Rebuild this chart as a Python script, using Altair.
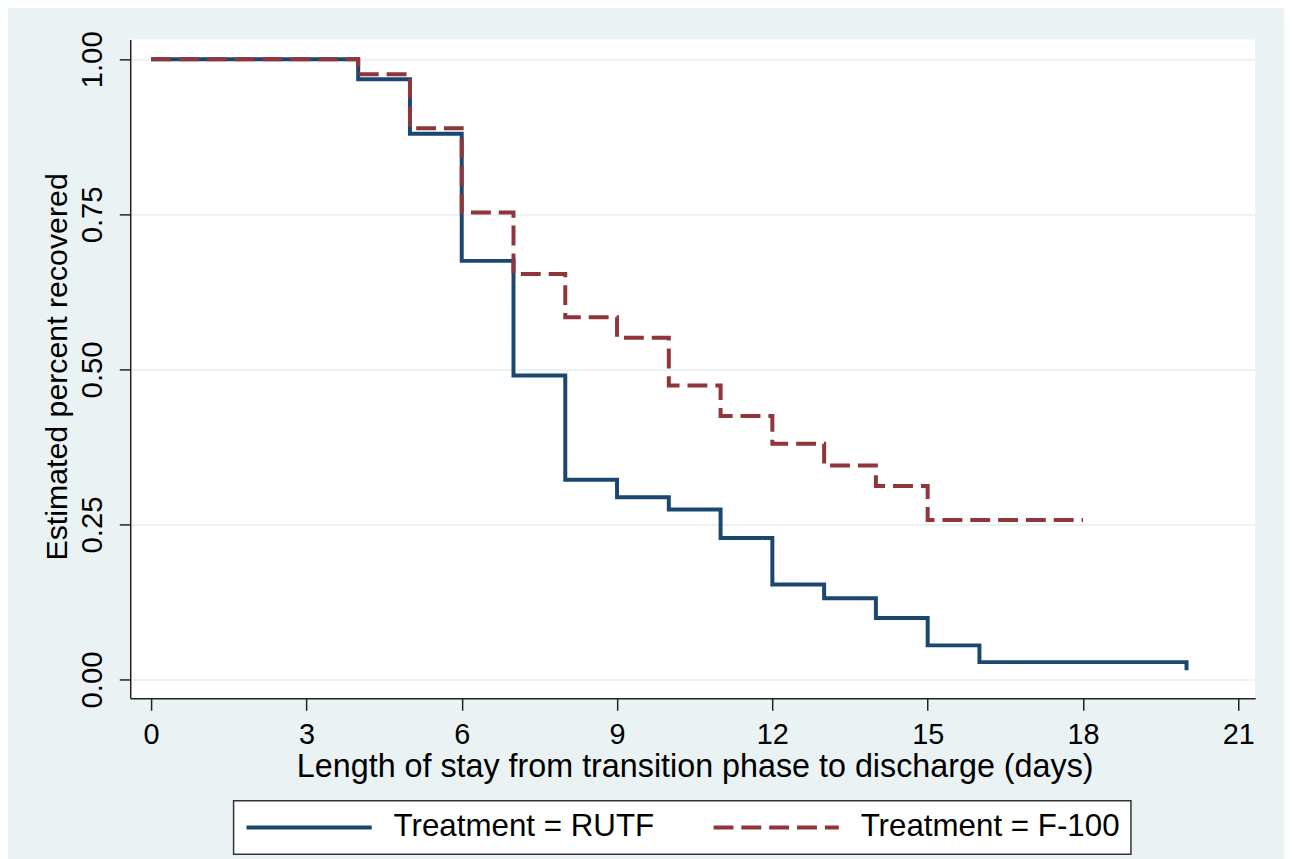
import altair as alt
import pandas as pd

# Kaplan-Meier style step data
days_rutf = [0, 4, 5, 6, 7, 8, 9, 10, 11, 12, 13, 14, 15, 16, 20]
surv_rutf = [1.0, 0.968, 0.880, 0.675, 0.490, 0.322, 0.294, 0.274, 0.228, 0.153, 0.131, 0.099, 0.055, 0.028, 0.015]

days_f100 = [0, 4, 5, 6, 7, 8, 9, 10, 11, 12, 13, 14, 15, 18]
surv_f100 = [1.0, 0.976, 0.889, 0.753, 0.654, 0.584, 0.551, 0.474, 0.425, 0.380, 0.345, 0.312, 0.257, 0.257]

series_names = ["Treatment = RUTF", "Treatment = F-100"]
series_colors = ["#1a476f", "#90353b"]
x_ticks = [0, 3, 6, 9, 12, 15, 18, 21]
y_ticks = [0.0, 0.25, 0.5, 0.75, 1.0]

rows = []
for i, (d, s) in enumerate(zip(days_rutf, surv_rutf)):
    rows.append({"day": d, "surv": s, "Treatment": series_names[0], "order": i})
for i, (d, s) in enumerate(zip(days_f100, surv_f100)):
    rows.append({"day": d, "surv": s, "Treatment": series_names[1], "order": i})
df = pd.DataFrame(rows)

FONT = "Liberation Sans, Arial, Helvetica, sans-serif"

x_enc = alt.X(
    "day:Q",
    scale=alt.Scale(domain=[-0.403, 21.326], nice=False, zero=False),
    axis=alt.Axis(
        values=x_ticks, format="d", grid=False,
        title="Length of stay from transition phase to discharge (days)",
        titleFontSize=32.5, titleFontWeight="normal", titleColor="#000",
        titleBaseline="alphabetic", titleY=79, titleX=568, titleAlign="center",
        labelFontSize=29, labelColor="#000", labelBaseline="alphabetic",
        labelPadding=33, labelFlush=False,
        tickSize=12, tickColor="#222", tickWidth=1.5,
        domainColor="#222", domainWidth=1.5,
    ),
)
y_enc = alt.Y(
    "surv:Q",
    scale=alt.Scale(domain=[-0.0304, 1.032], nice=False, zero=False),
    axis=alt.Axis(
        values=y_ticks, format=".2f", grid=True,
        gridColor="#EAF2F3", gridWidth=2,
        title="Estimated percent recovered",
        titleFontSize=30.5, titleFontWeight="normal", titleColor="#000",
        titleAngle=270, titleBaseline="alphabetic", titleAlign="center",
        titleX=-64, titleY=329,
        labelFontSize=29.5, labelColor="#000", labelAngle=270,
        labelAlign="center", labelBaseline="alphabetic", labelPadding=18,
        tickSize=11, tickColor="#222", tickWidth=1.5,
        domainColor="#222", domainWidth=1.5,
    ),
)
color_enc = alt.Color(
    "Treatment:N",
    scale=alt.Scale(domain=series_names, range=series_colors),
    title=None,
)
dash_enc = alt.StrokeDash(
    "Treatment:N",
    scale=alt.Scale(domain=series_names, range=[[1, 0], [20, 8]]),
    title=None,
)

base = alt.Chart(df).mark_line(interpolate="step-after", strokeWidth=4).encode(
    x=x_enc, y=y_enc, color=color_enc, strokeDash=dash_enc, order="order:Q"
)

layer_rutf = base.transform_filter(alt.datum.Treatment == series_names[0])
layer_f100 = base.transform_filter(alt.datum.Treatment == series_names[1])

chart = alt.layer(layer_rutf, layer_f100).properties(
    width=1132,
    height=663,
    padding={"left": 123, "top": 29, "right": 29, "bottom": 159},
    autosize=alt.AutoSizeParams(type="none"),
    background="#EAF2F3",
).configure(
    font=FONT,
).configure_view(
    fill="white", stroke=None,
).configure_legend(
    orient="none", legendX=104, legendY=766, direction="horizontal",
    columns=2, fillColor="white", strokeColor="#333", strokeWidth=1.5,
    padding=11, symbolType="stroke", symbolSize=15876, symbolStrokeWidth=4,
    labelFontSize=31.5, labelColor="#000", labelOffset=20, columnPadding=57,
    clipHeight=32, labelBaseline="middle", labelLimit=0,
)

chart.save("out.html", embed_options={"renderer": "svg", "actions": False})
